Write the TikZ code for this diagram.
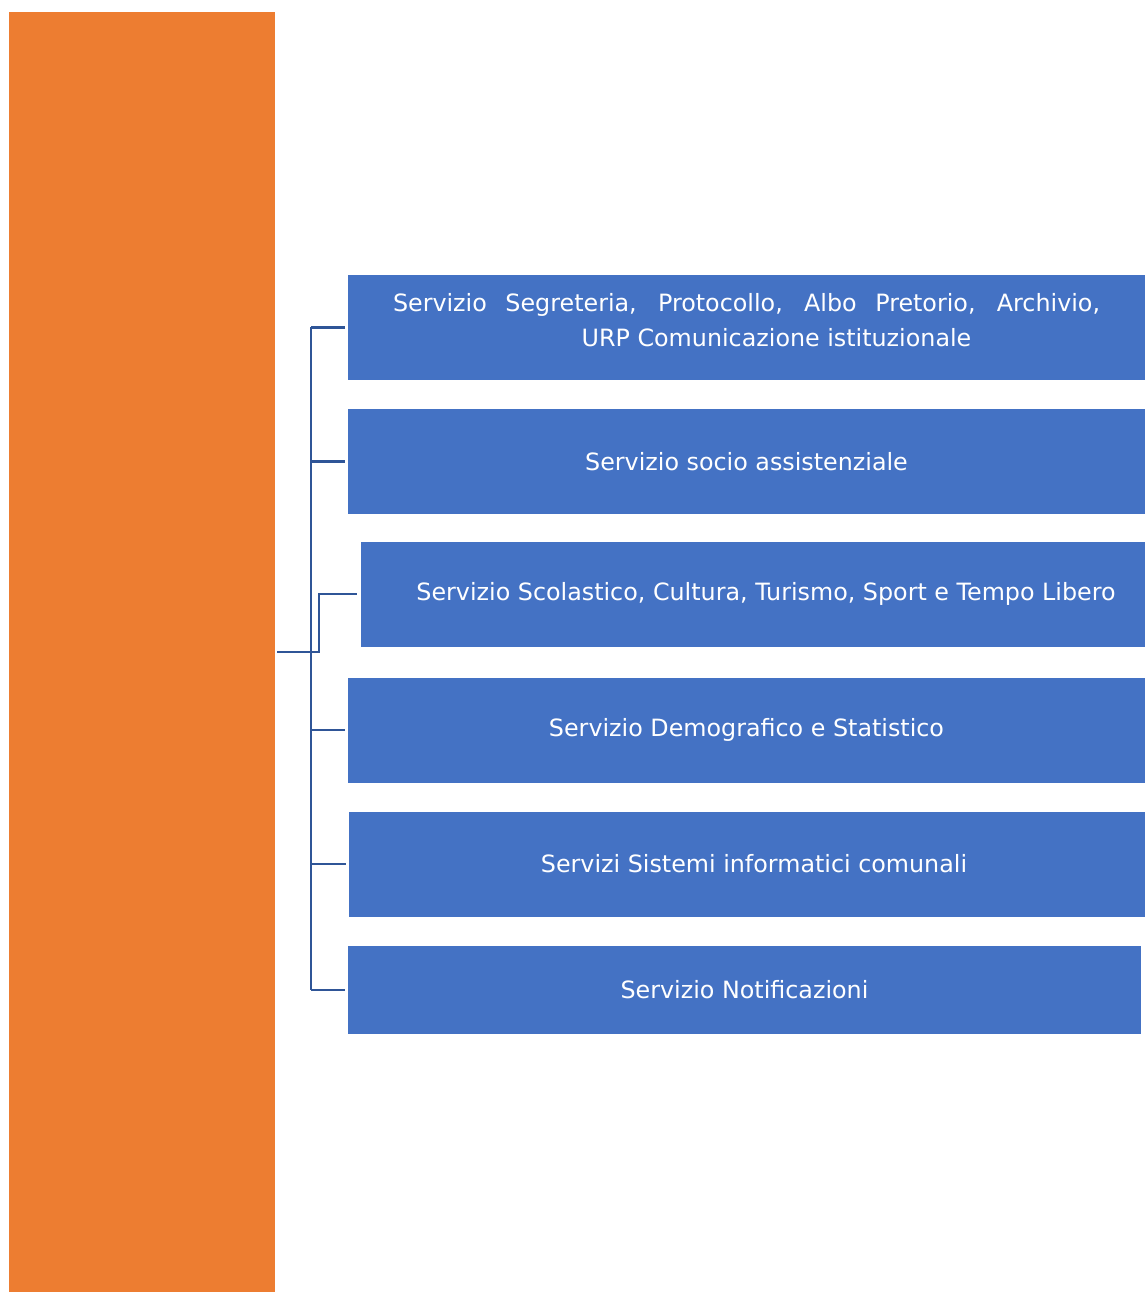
\documentclass[tikz,border=0pt]{standalone}
\usepackage{fontspec}
\setmainfont{DejaVu Sans}
\usepackage{xcolor}
\usetikzlibrary{positioning}

\definecolor{headorange}{HTML}{ED7D31}
\definecolor{boxblue}{HTML}{4472C4}
\definecolor{linkblue}{HTML}{2F5597}

\begin{document}
\begin{tikzpicture}[
    x=1pt, y=-1pt,
    head/.style={rectangle, fill=headorange, inner sep=0pt, minimum width=266pt, minimum height=1280pt},
    service/.style={rectangle, fill=boxblue, inner sep=0pt, text=white, font=\fontsize{23.8}{35}\selectfont, minimum width=797pt, minimum height=105pt, align=center},
    link/.style={draw=linkblue, line width=2.4pt}
]
\useasboundingbox (0,0) rectangle (1145,1292);

% Main boxes
\node[head] (head) at (142,652) {};
\node[service] (s1) at (746.5,327.5) {\makebox[707pt][s]{Servizio Segreteria, Protocollo, Albo Pretorio, Archivio,}\\\hspace*{60pt}URP Comunicazione istituzionale\\[-20pt]};
\node[service] (s2) at (746.5,461.5) {Servizio socio assistenziale};
\node[service, minimum width=784pt] (s3) at (753,594) {\hspace*{26pt}Servizio Scolastico, Cultura, Turismo, Sport e Tempo Libero};
\node[service] (s4) at (746.5,730) {Servizio Demografico e Statistico};
\node[service, minimum width=796pt] (s5) at (747,864) {\hspace*{14pt}Servizi Sistemi informatici comunali};
\node[service, minimum width=793pt, minimum height=88pt] (s6) at (744.5,990) {Servizio Notificazioni};

% Connectors
\coordinate (bustop) at (311,327);
\coordinate (busbot) at (311,990);
\draw[link] (bustop) -- (busbot);
\foreach \n in {s1,s2,s4,s5,s6}
    \draw[link] (bustop |- \n.west) -- ([xshift=-3pt]\n.west);
\draw[link] ([xshift=2pt]head.east) -- ++(42,0) |- ([xshift=-4pt]s3.west);

\end{tikzpicture}
\end{document}
